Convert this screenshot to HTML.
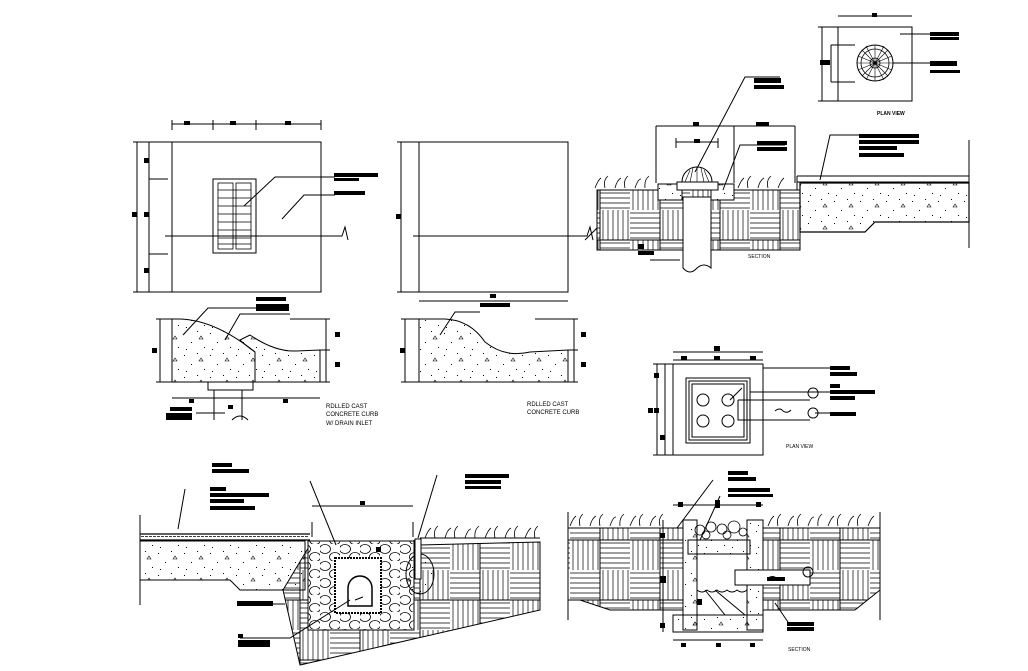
<!DOCTYPE html>
<html><head><meta charset="utf-8"><style>
html,body{margin:0;padding:0;background:#fff;}
svg{display:block;}
text{font-family:"Liberation Sans",sans-serif;font-size:6px;fill:#000;}
</style></head><body>
<svg width="1028" height="671" viewBox="0 0 1028 671" xmlns="http://www.w3.org/2000/svg">
<defs>
<pattern id="conc" width="26" height="22" patternUnits="userSpaceOnUse">
<rect x="2" y="3" width="1" height="1" fill="#000"/><rect x="15" y="1" width="1" height="1" fill="#000"/><rect x="9" y="12" width="1" height="1" fill="#000"/><rect x="22" y="17" width="1" height="1" fill="#000"/><rect x="4" y="19" width="1" height="1" fill="#000"/><path d="M17 9 l2 -3 l2 3z" fill="none" stroke="#000" stroke-width="0.6"/>
</pattern>
<pattern id="soil" width="60" height="60" patternUnits="userSpaceOnUse">
<g stroke="#000" stroke-width="0.7">
<path d="M0 3H30M0 8H30M0 13H30M0 18H30M0 23H30M0 28H30M30 33H60M30 38H60M30 43H60M30 48H60M30 53H60M30 58H60"/>
<path d="M33 0V30M38 0V30M43 0V30M48 0V30M53 0V30M58 0V30M3 30V60M8 30V60M13 30V60M18 30V60M23 30V60M28 30V60"/>
</g>
<rect x="0" y="0" width="60" height="60" fill="none" stroke="#000" stroke-width="1"/>
</pattern>
<pattern id="stone" width="20" height="17" patternUnits="userSpaceOnUse">
<ellipse cx="5" cy="5" rx="5.5" ry="4.5" fill="none" stroke="#000" stroke-width="0.8"/>
<ellipse cx="15" cy="13" rx="5.5" ry="4.5" fill="none" stroke="#000" stroke-width="0.8"/>
</pattern>
</defs>
<g fill="none" stroke="#000" stroke-width="1">
<rect x="172" y="142" width="149" height="150"/>
<rect x="213" y="179" width="43" height="74"/>
<g stroke-width="0.8">
<rect x="218" y="183" width="15" height="66"/><rect x="236" y="183" width="15" height="66"/>
<path d="M218 190H251M218 198H251M218 206H251M218 214H251M218 222H251M218 230H251M218 238H251M218 244H251"/>
</g>
<path d="M172 124H321M172 120V130M213 120V130M256 120V130M321 120V130"/>
<path d="M137 142V292M149 142V292M133 142H172M133 292H172M149 179H168M149 254H168"/>
<path d="M165 236H342L345 227L348 240"/>
<path d="M244 206L275 177H335M282 219L304 195H335"/>
<rect x="419" y="142" width="149" height="150"/>
<path d="M401 142V292M397 142H419M397 292H419M413 236H587L590 227L593 240"/>
<path d="M172 319H180Q215 320 255 352V382H172Z" fill="url(#conc)"/>
<path d="M255 352Q245 345 240 340L250 335Q275 352 296 351L320 350V382H255" fill="url(#conc)"/>
<path d="M208 382H253V390H208Z M214 390V420M242 390V420M160 319V382M156 319H172M156 382H172M172 398H320M326 319V382M330 319H290M330 350H320M330 382H320"/>
<path d="M183 335L208 308H256M225 340L240 314H290M196 413H225"/>
<path d="M232 420Q240 412 248 420"/>
<path d="M419 319H445Q470 320 485 342Q505 358 530 352L568 350V382H419Z" fill="url(#conc)"/>
<path d="M405 319V382M401 319H419M401 382H419M419 301H568M574 319V382M578 319H535M578 350H568M578 382H568M440 335L455 312H480"/>
<rect x="838" y="27" width="74" height="74"/>
<circle cx="875" cy="63" r="18"/><circle cx="875" cy="63" r="14" stroke-width="0.8"/><circle cx="875" cy="63" r="5" stroke-width="0.8"/>
<path d="M875 45V81M857 63H893M862 50L888 76M888 50L862 76M866 46L884 80M884 46L866 80M858 56L892 70M892 56L858 70" stroke-width="0.6"/>
<path d="M838 16H912M822 27V101M831 45V82M818 27H838M818 101H838M831 45H855M831 82H855M900 34H930M893 63H930"/>
<path d="M597 190H800V250H597Z" fill="url(#soil)"/>
<path d="M800 183H969V222H875L865 232H800Z" fill="url(#conc)" stroke-width="1.2"/>
<path d="M797 176H969M797 182H969M797 176V190M969 140V248"/>
<rect x="658" y="184" width="24" height="16" fill="#fff"/><rect x="711" y="184" width="23" height="16" fill="#fff"/>
<rect x="658" y="184" width="24" height="16" fill="url(#conc)"/><rect x="711" y="184" width="23" height="16" fill="url(#conc)"/>
<path d="M683 197V268Q690 276 697 268Q704 262 711 268V197Z" fill="#fff"/>
<path d="M677 182H718V190H677Z M682 182A15 15 0 0 1 712 182" fill="#fff"/>
<path d="M685 182L690 170M690 182L693 168M697 182V167M704 182L701 168M709 182L704 170" stroke-width="0.6"/>
<path d="M656 126V183M734 126V183M795 126V183M656 126H795M676 142H718M676 138V148M718 138V148"/>
<path d="M695 172L745 77H780M723 190L740 145H785M820 180L830 135H860M680 260H650"/>
<g stroke-width="0.8"><path d="M595 188q3-8 6-10M605 188q-2-8 3-12M615 188q2-8 6-10M625 188q-2-8 3-12M635 188q3-9 6-9M645 188q-1-8 4-12M738 188q3-8 6-10M748 188q-2-8 3-12M758 188q2-8 6-10M768 188q-2-8 3-12M778 188q3-8 6-10"/></g>
<path d="M585 240L597 228"/>
<rect x="673" y="364" width="90" height="91"/>
<rect x="686" y="378" width="64" height="65"/><rect x="689" y="381" width="58" height="59"/><rect x="692" y="384" width="52" height="53"/>
<circle cx="703" cy="400" r="6"/><circle cx="728" cy="400" r="6"/><circle cx="703" cy="421" r="6"/><circle cx="728" cy="421" r="6"/>
<path d="M738 400V420H810M738 400H810M813 398a5 5 0 1 1 0.1 0M813 418a5 5 0 1 1 0.1 0M775 411q5-4 8 0q4 3 8-1"/>
<path d="M673 352H763M673 360H763M657 364V455M665 364V455M653 364H673M653 455H673M763 368H830M750 392H830M815 413H830M730 400L742 388"/>
<path d="M283 590L310 545H420L540 542V610L300 665Z" fill="url(#soil)"/>
<path d="M140 534H310M140 540H310" stroke-width="1.2"/>
<path d="M141 536.5H309" stroke-dasharray="3 1" stroke-width="0.8"/>
<path d="M140 541H305V590H240L230 580H140Z" fill="url(#conc)"/>
<path d="M140 515V605"/>
<rect x="308" y="541" width="106" height="89" fill="#fff"/>
<rect x="308" y="541" width="106" height="89" fill="url(#stone)"/>
<rect x="335" y="558" width="46" height="55" fill="#fff" stroke-width="2" stroke-dasharray="2 1"/>
<path d="M348 606V588A12 12 0 0 1 372 588V606Z" fill="#fff" stroke-width="1.5"/>
<path d="M350 606H372M355 600l8-3" />
<path d="M414 540V590M420 538H540" />
<ellipse cx="420" cy="574" rx="14" ry="20" fill="url(#conc)"/>
<rect x="415" y="539" width="6" height="40" fill="#fff"/>
<path d="M312 522V537M413 522V537M312 506H413M310 481L336 545M437 475L418 538M185 489L178 529M240 604H285M240 638H290L350 600"/>
<g stroke-width="0.8"><path d="M425 538q3-8 6-10M435 538q-2-8 3-12M445 538q2-8 6-10M455 538q-2-8 3-12M465 538q3-9 6-9M475 538q-1-8 4-12M485 538q3-8 6-10M495 538q-2-8 3-12M505 538q2-8 6-10M515 538q-2-8 3-12M525 538q3-8 6-10M535 538q-2-8 3-12"/></g>
<path d="M568 528H686V610H610L580 600H568Z" fill="url(#soil)"/>
<path d="M747 528H880V590L855 610H747Z" fill="url(#soil)"/>
<rect x="683" y="520" width="14" height="110" fill="#fff"/><rect x="747" y="520" width="16" height="110" fill="#fff"/>
<rect x="683" y="520" width="14" height="110" fill="url(#conc)"/>
<rect x="747" y="520" width="16" height="110" fill="url(#conc)"/>
<rect x="673" y="615" width="90" height="17" fill="url(#conc)"/>
<rect x="688" y="540" width="62" height="14" fill="url(#conc)"/>
<rect x="697" y="554" width="50" height="61" fill="#fff"/>
<path d="M697 590q5 4 10 0q5 4 10 0q5 4 10 0q5 4 10 0q5 4 10 0M705 590L725 615M715 590L745 615"/>
<rect x="735" y="570" width="75" height="15" fill="#fff"/>
<path d="M768 578q5-3 8 0q4 3 8 0"/><circle cx="808" cy="572" r="5"/>
<g stroke-width="0.8"><circle cx="700" cy="530" r="5"/><circle cx="711" cy="527" r="5"/><circle cx="722" cy="529" r="5"/><circle cx="734" cy="527" r="6"/><circle cx="743" cy="532" r="4"/><circle cx="706" cy="535" r="4"/><circle cx="727" cy="535" r="4"/></g>
<path d="M568 512V620M880 512V620M673 505H763M673 640H763M663 520V632M677 528L713 480M700 540L720 496M775 603L790 625"/>
<g stroke-width="0.8"><path d="M570 526q3-8 6-10M580 526q-2-8 3-12M590 526q2-8 6-10M600 526q-2-8 3-12M610 526q3-9 6-9M620 526q-1-8 4-12M630 526q3-8 6-10M640 526q-2-8 3-12M650 526q2-8 6-10M660 526q-2-8 3-12M768 526q3-8 6-10M778 526q-2-8 3-12M788 526q2-8 6-10M798 526q-2-8 3-12M808 526q3-9 6-9M818 526q-1-8 4-12M828 526q3-8 6-10M838 526q-2-8 3-12M848 526q2-8 6-10M858 526q-2-8 3-12M868 526q3-8 6-10"/></g>
</g>
<g fill="#000">
<rect x="334" y="173" width="44" height="4"/><rect x="334" y="178" width="25" height="3"/><rect x="334" y="191" width="31" height="4"/>
<rect x="184" y="121" width="6" height="4"/><rect x="230" y="121" width="6" height="4"/><rect x="285" y="121" width="6" height="4"/>
<rect x="144" y="158" width="5" height="5"/><rect x="144" y="212" width="5" height="5"/><rect x="144" y="268" width="5" height="5"/><rect x="132" y="212" width="5" height="5"/>
<rect x="396" y="214" width="5" height="5"/><rect x="490" y="294" width="6" height="4"/>
<rect x="256" y="297" width="30" height="4"/><rect x="256" y="304" width="33" height="7"/><rect x="480" y="303" width="30" height="4"/>
<rect x="152" y="348" width="5" height="5"/><rect x="335" y="332" width="5" height="5"/><rect x="335" y="362" width="5" height="5"/>
<rect x="400" y="348" width="5" height="5"/><rect x="581" y="332" width="5" height="5"/><rect x="581" y="362" width="5" height="5"/>
<rect x="170" y="407" width="22" height="4"/><rect x="166" y="413" width="26" height="7"/><rect x="189" y="399" width="5" height="4"/><rect x="283" y="399" width="5" height="4"/><rect x="228" y="405" width="5" height="4"/>
<rect x="930" y="32" width="29" height="4"/><rect x="930" y="37" width="29" height="3"/><rect x="930" y="61" width="27" height="5"/><rect x="930" y="70" width="30" height="3"/><rect x="820" y="60" width="10" height="5"/><rect x="872" y="13" width="5" height="4"/>
<rect x="754" y="78" width="27" height="5"/><rect x="754" y="85" width="30" height="4"/>
<rect x="757" y="141" width="30" height="4"/><rect x="757" y="147" width="30" height="4"/>
<rect x="859" y="134" width="60" height="4"/><rect x="859" y="140" width="60" height="4"/><rect x="859" y="146" width="38" height="4"/><rect x="859" y="153" width="45" height="4"/>
<rect x="693" y="122" width="6" height="4"/><rect x="756" y="122" width="13" height="4"/><rect x="694" y="139" width="6" height="4"/>
<rect x="638" y="244" width="6" height="5"/><rect x="638" y="251" width="16" height="4"/>
<rect x="714" y="346" width="6" height="5"/><rect x="681" y="356" width="6" height="4"/><rect x="714" y="356" width="6" height="4"/><rect x="750" y="356" width="6" height="4"/>
<rect x="654" y="373" width="5" height="5"/><rect x="654" y="408" width="5" height="5"/><rect x="648" y="408" width="5" height="5"/><rect x="660" y="435" width="5" height="5"/>
<rect x="830" y="366" width="20" height="4"/><rect x="830" y="372" width="27" height="4"/><rect x="830" y="384" width="10" height="4"/><rect x="830" y="390" width="45" height="4"/><rect x="830" y="396" width="25" height="4"/><rect x="830" y="412" width="26" height="4"/>
<rect x="212" y="463" width="20" height="4"/><rect x="212" y="469" width="37" height="4"/>
<rect x="210" y="487" width="16" height="4"/><rect x="210" y="493" width="59" height="4"/><rect x="210" y="499" width="34" height="4"/><rect x="210" y="506" width="45" height="4"/>
<rect x="465" y="474" width="44" height="4"/><rect x="465" y="480" width="36" height="4"/><rect x="465" y="486" width="36" height="3"/>
<rect x="360" y="501" width="5" height="4"/><rect x="376" y="547" width="5" height="5"/>
<rect x="237" y="601" width="36" height="5"/><rect x="238" y="634" width="5" height="4"/><rect x="238" y="640" width="32" height="7"/>
<rect x="728" y="471" width="20" height="4"/><rect x="728" y="477" width="28" height="4"/><rect x="728" y="488" width="42" height="4"/><rect x="728" y="494" width="45" height="3"/>
<rect x="678" y="502" width="5" height="5"/><rect x="715" y="500" width="5" height="8"/><rect x="756" y="502" width="5" height="5"/>
<rect x="660" y="533" width="5" height="5"/><rect x="660" y="576" width="6" height="7"/><rect x="697" y="599" width="5" height="6"/><rect x="660" y="623" width="5" height="5"/>
<rect x="681" y="643" width="5" height="4"/><rect x="716" y="643" width="5" height="4"/><rect x="750" y="643" width="5" height="4"/>
<rect x="767" y="577" width="18" height="4"/><rect x="787" y="622" width="27" height="4"/><rect x="787" y="627" width="27" height="4"/>
</g>
<text x="326" y="408">RDLLED CAST</text>
<text x="326" y="416">CONCRETE CURB</text>
<text x="326" y="425">W/ DRAIN INLET</text>
<text x="527" y="406">RDLLED CAST</text>
<text x="527" y="414">CONCRETE CURB</text>
<text x="748" y="258" style="font-size:5px">SECTION</text>
<text x="877" y="115" style="font-size:5px;font-weight:bold">PLAN VIEW</text>
<text x="786" y="448" style="font-size:5px">PLAN VIEW</text>
<text x="788" y="651" style="font-size:5px">SECTION</text>
</svg>
</body></html>
